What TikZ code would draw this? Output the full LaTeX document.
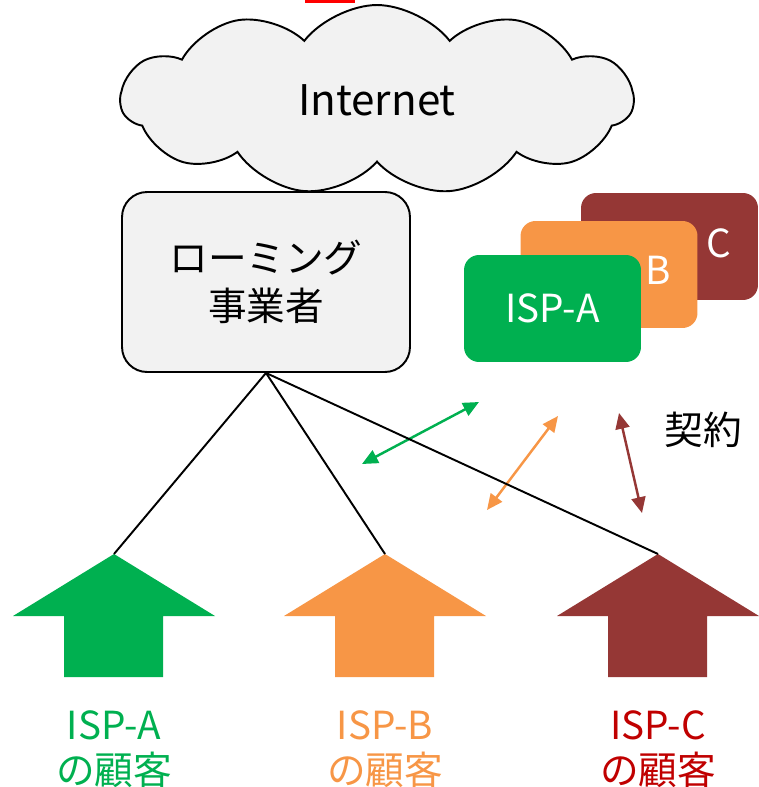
\documentclass[tikz,border=0pt]{standalone}
\usepackage{fontspec}
\setmainfont{Noto Sans CJK JP}
\usetikzlibrary{arrows.meta}
\usetikzlibrary{positioning}
\usetikzlibrary{shapes.symbols}
\definecolor{ispgreen}{HTML}{00B050}
\definecolor{isporange}{HTML}{F79646}
\definecolor{ispbrown}{HTML}{953735}
\definecolor{ispred}{HTML}{C00000}
\definecolor{boxgray}{HTML}{F2F2F2}

\begin{document}
\begin{tikzpicture}[x=0.02cm, y=-0.02cm, every node/.style={align=center},
    big/.style={font=\fontsize{22}{26}\selectfont},
    card/.style={rounded corners=0.3cm, minimum width=3.54cm, minimum height=2.14cm, text=white, big},
    contract/.style={line width=1.4pt, {Triangle[length=9pt,width=8pt]}-{Triangle[length=9pt,width=8pt]}}]
    \useasboundingbox (0,0) rectangle (758,787);

    % cut-off shape at the top
    \fill[red] (305,0) rectangle (355,3);

    % Internet cloud
    \node[cloud, cloud puffs=11, cloud puff arc=105, aspect=2.8, draw, line width=1.1pt, fill=boxgray,
          minimum width=10.25cm, minimum height=3.8cm, font=\fontsize{24}{28}\selectfont] (inet) at (377,100) {Internet};

    % roaming provider
    \node[draw, line width=1.1pt, fill=boxgray, rounded corners=0.5cm, minimum width=5.76cm, minimum height=3.6cm,
          font=\fontsize{22}{27}\selectfont] (roam) at (266,282) {ローミング\\事業者};

    % ISP cards
    \node[card, fill=ispbrown] (ispC) at (669.5,246.5) {};
    \node[big, text=white] (labC) at (719,243) {C};
    \node[card, fill=isporange] (ispB) at (609,274.5) {};
    \node[big, text=white] (labB) at (658,270) {B};
    \node[card, fill=ispgreen] (ispA) at (552.5,308.5) {ISP-A};

    % contract arrows
    \coordinate (gA1) at (362,464);
    \coordinate (gA2) at (479,402);
    \coordinate (oB1) at (487,510);
    \coordinate (oB2) at (558,416);
    \coordinate (bC1) at (619,413);
    \coordinate (bC2) at (642,513);
    \draw[contract, ispgreen] (gA1) -- (gA2);
    \draw[contract, isporange] (oB1) -- (oB2);
    \draw[contract, ispbrown] (bC1) -- (bC2);
    \node[big] (keiyaku) at (703,430) {契約};

    % customer arrows
    \coordinate (tipA) at (114,554);
    \coordinate (tipB) at (385,554);
    \coordinate (tipC) at (658,554);
    \fill[ispgreen] (tipA) -- ++(101,62) -- ++(-52,0) -- ++(0,61) -- ++(-99,0) -- ++(0,-61) -- ++(-51,0) -- cycle;
    \fill[isporange] (tipB) -- ++(101,62) -- ++(-52,0) -- ++(0,61) -- ++(-99,0) -- ++(0,-61) -- ++(-51,0) -- cycle;
    \fill[ispbrown] (tipC) -- ++(101,62) -- ++(-52,0) -- ++(0,61) -- ++(-99,0) -- ++(0,-61) -- ++(-51,0) -- cycle;

    % links to the roaming provider
    \draw[line width=1.1pt] (roam.south) -- (tipA);
    \draw[line width=1.1pt] (roam.south) -- (tipB);
    \draw[line width=1.1pt] (roam.south) -- (tipC);

    % customer labels
    \node[big, text=ispgreen, font=\fontsize{22}{25.5}\selectfont] (custA) at (114,749) {ISP-A\\の顧客};
    \node[big, text=isporange, font=\fontsize{22}{25.5}\selectfont] (custB) at (385,749) {ISP-B\\の顧客};
    \node[big, text=ispred, font=\fontsize{22}{25.5}\selectfont] (custC) at (658,749) {ISP-C\\の顧客};
\end{tikzpicture}
\end{document}
